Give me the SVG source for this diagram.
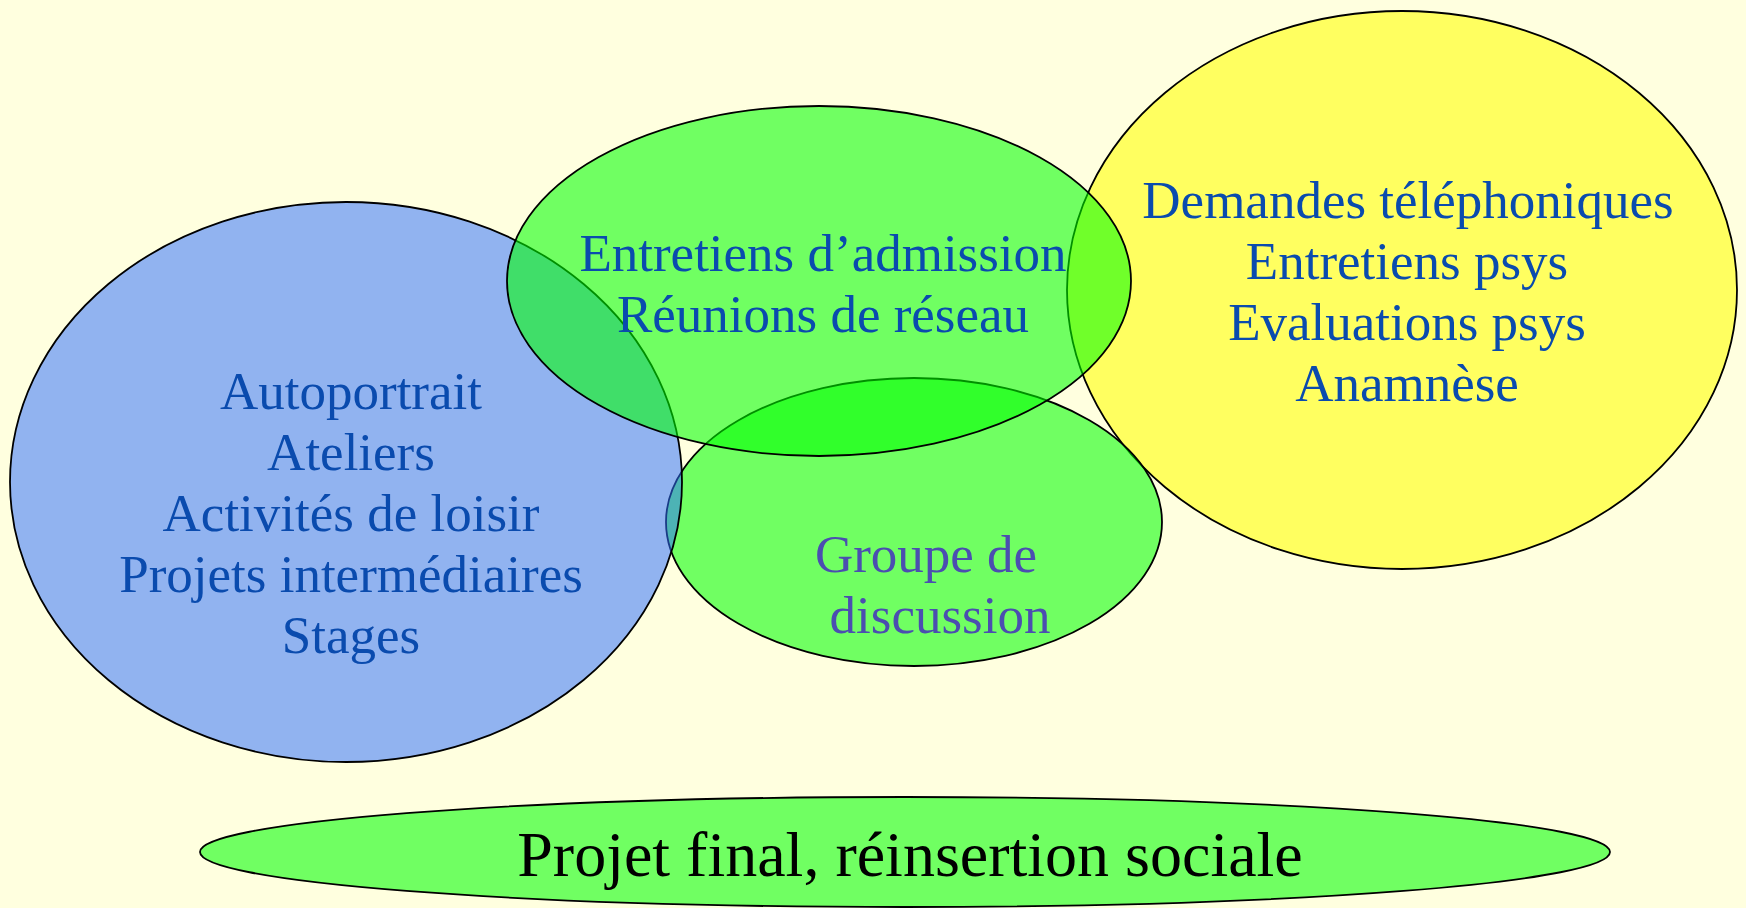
<svg xmlns="http://www.w3.org/2000/svg" width="1746" height="908" viewBox="0 0 1746 908">
<style>
.shape{stroke:#000;stroke-width:1.8}
.green{fill:#00FF00;fill-opacity:0.56}
.blue{fill:#3070FF;fill-opacity:0.53}
.yellow{fill:#FFFF60}
text{font-family:"Liberation Serif","Times New Roman",serif;font-size:53px;text-anchor:middle;fill:#0A4BAE}
.grp{fill:#4B4EB0}
.final{fill:#000;font-size:64px}
</style>
<rect width="1746" height="908" fill="#FFFFDF"/>
<g id="node-yellow">
<ellipse class="shape yellow" cx="1402" cy="290" rx="335" ry="279"/>
<text x="1408" y="218">Demandes téléphoniques</text>
<text x="1407" y="279">Entretiens psys</text>
<text x="1407" y="340">Evaluations psys</text>
<text x="1407" y="401">Anamnèse</text>
</g>
<g id="node-groupe">
<ellipse class="shape green" cx="914" cy="522" rx="248" ry="144"/>
<text class="grp" x="926" y="572">Groupe de</text>
<text class="grp" x="940" y="633">discussion</text>
</g>
<g id="node-blue">
<ellipse class="shape blue" cx="346" cy="482" rx="336" ry="280"/>
<text x="351" y="409">Autoportrait</text>
<text x="351" y="470">Ateliers</text>
<text x="351" y="531">Activités de loisir</text>
<text x="351" y="592">Projets intermédiaires</text>
<text x="351" y="653">Stages</text>
</g>
<g id="node-admission">
<ellipse class="shape green" cx="819" cy="281" rx="312" ry="175"/>
<text x="823" y="271">Entretiens d’admission</text>
<text x="823" y="332">Réunions de réseau</text>
</g>
<g id="node-final">
<ellipse class="shape green" cx="905" cy="852" rx="705" ry="55"/>
<text class="final" x="910" y="876">Projet final, réinsertion sociale</text>
</g>
</svg>
